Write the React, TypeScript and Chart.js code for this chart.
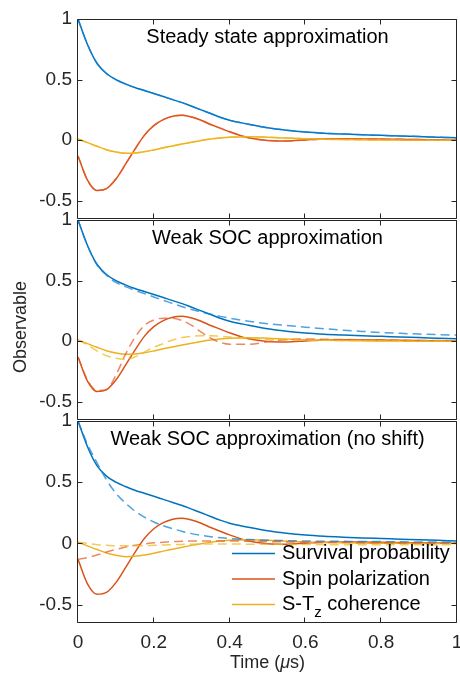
import React, { useEffect, useRef } from 'react';
import { Chart, registerables } from 'chart.js';
Chart.register(...registerables);

// ---------- data ----------
const TIME = [0, 0.025, 0.05, 0.075, 0.1, 0.125, 0.15, 0.175, 0.2, 0.225, 0.25, 0.275, 0.3, 0.325, 0.35, 0.375, 0.4, 0.45, 0.5, 0.55, 0.6, 0.65, 0.7, 0.75, 0.8, 0.85, 0.9, 0.95, 1];

// exact (solid) curves
const SURVIVAL = [1, 0.79, 0.635, 0.55, 0.5, 0.465, 0.435, 0.41, 0.385, 0.36, 0.335, 0.31, 0.28, 0.25, 0.22, 0.19, 0.165, 0.132, 0.103, 0.083, 0.068, 0.058, 0.051, 0.045, 0.04, 0.035, 0.03, 0.025, 0.02];
const POLARIZATION = [-0.13, -0.33, -0.415, -0.4, -0.32, -0.2, -0.075, 0.04, 0.12, 0.17, 0.198, 0.205, 0.192, 0.165, 0.13, 0.1, 0.07, 0.02, -0.002, -0.006, 0.002, 0.01, 0.012, 0.011, 0.009, 0.007, 0.005, 0.003, 0.001];
const COHERENCE = [0.01, -0.02, -0.05, -0.078, -0.097, -0.108, -0.105, -0.095, -0.08, -0.063, -0.047, -0.031, -0.016, -0.002, 0.01, 0.019, 0.025, 0.029, 0.025, 0.018, 0.012, 0.008, 0.005, 0.003, 0.002, 0.001, 0, 0, 0];

// steady state approximation (dashed, panel 1)
const SS_SURVIVAL = [1, 0.79, 0.635, 0.55, 0.5, 0.465, 0.435, 0.41, 0.385, 0.36, 0.335, 0.31, 0.28, 0.25, 0.22, 0.19, 0.165, 0.132, 0.103, 0.083, 0.068, 0.058, 0.051, 0.045, 0.04, 0.035, 0.03, 0.025, 0.02];
const SS_POLARIZATION = [-0.13, -0.33, -0.415, -0.4, -0.32, -0.2, -0.075, 0.04, 0.12, 0.17, 0.198, 0.205, 0.192, 0.165, 0.13, 0.1, 0.07, 0.02, -0.002, -0.006, 0.002, 0.01, 0.012, 0.011, 0.009, 0.007, 0.005, 0.003, 0.001];
const SS_COHERENCE = [0.01, -0.02, -0.05, -0.078, -0.097, -0.108, -0.105, -0.095, -0.08, -0.063, -0.047, -0.031, -0.016, -0.002, 0.01, 0.019, 0.025, 0.029, 0.025, 0.018, 0.012, 0.008, 0.005, 0.003, 0.002, 0.001, 0, 0, 0];

// weak SOC approximation (dashed, panel 2)
const WS_SURVIVAL = [1, 0.79, 0.63, 0.545, 0.485, 0.45, 0.42, 0.393, 0.365, 0.338, 0.31, 0.285, 0.262, 0.241, 0.222, 0.205, 0.19, 0.165, 0.145, 0.13, 0.116, 0.103, 0.091, 0.081, 0.072, 0.065, 0.059, 0.054, 0.05];
const WS_POLARIZATION = [-0.13, -0.32, -0.405, -0.4, -0.28, -0.11, 0.03, 0.13, 0.175, 0.19, 0.19, 0.17, 0.13, 0.075, 0.025, -0.01, -0.025, -0.025, -0.005, 0.012, 0.018, 0.016, 0.014, 0.012, 0.01, 0.008, 0.006, 0.005, 0.004];
const WS_COHERENCE = [0.01, -0.03, -0.08, -0.12, -0.14, -0.15, -0.13, -0.09, -0.05, -0.02, 0.01, 0.03, 0.04, 0.045, 0.045, 0.04, 0.035, 0.025, 0.015, 0.012, 0.01, 0.008, 0.006, 0.005, 0.004, 0.003, 0.002, 0.001, 0];

// weak SOC approximation, no shift (dashed, panel 3)
const NS_SURVIVAL = [1, 0.81, 0.66, 0.52, 0.41, 0.33, 0.265, 0.215, 0.175, 0.145, 0.12, 0.098, 0.08, 0.066, 0.055, 0.047, 0.04, 0.032, 0.026, 0.023, 0.02, 0.018, 0.017, 0.016, 0.015, 0.013, 0.012, 0.011, 0.01];
const NS_POLARIZATION = [-0.13, -0.115, -0.095, -0.07, -0.05, -0.03, -0.015, -0.005, 0.005, 0.01, 0.015, 0.018, 0.02, 0.02, 0.02, 0.02, 0.02, 0.018, 0.015, 0.012, 0.01, 0.008, 0.007, 0.006, 0.005, 0.004, 0.003, 0.002, 0.001];
const NS_COHERENCE = [0.01, 0, -0.01, -0.015, -0.02, -0.02, -0.02, -0.018, -0.015, -0.012, -0.01, -0.008, -0.006, -0.005, -0.005, -0.005, -0.005, -0.006, -0.007, -0.008, -0.009, -0.01, -0.01, -0.01, -0.01, -0.01, -0.01, -0.01, -0.01];

const X_TICKS = [0, 0.2, 0.4, 0.6, 0.8, 1];
const Y_TICKS = [-0.5, 0, 0.5, 1];
const PANEL_TITLES = ['Steady state approximation', 'Weak SOC approximation', 'Weak SOC approximation (no shift)'];
const LEGEND_LABELS = ['Survival probability', 'Spin polarization', 'S-T', 'z', ' coherence'];
const Y_TITLE = 'Observable';
const X_TITLE_PARTS = ['Time (', 'μ', 's)'];

// ---------- style ----------
const COLORS = ['#0072BD', '#D95319', '#EDB120'];
const DASH_COLORS = ['rgba(20,130,215,0.75)', 'rgba(230,90,40,0.72)', 'rgba(240,185,30,0.75)'];
const AXIS = '#262626';
const FONT = '"Liberation Sans", Arial, Helvetica, sans-serif';
const W = 480;
const H = 677;
const PANELS = [
  { top: 19, bottom: 219 },
  { top: 220, bottom: 420 },
  { top: 421, bottom: 623 },
];
const LEFT = 78;
const RIGHT = 457;

const toXY = (arr: number[]) => TIME.map((t, i) => ({ x: t, y: arr[i] }));

function makeDatasets(dashed: number[][]) {
  const solid = [SURVIVAL, POLARIZATION, COHERENCE];
  const ds: any[] = [];
  solid.forEach((arr, i) =>
    ds.push({
      data: toXY(arr),
      borderColor: COLORS[i],
      borderWidth: 1.5,
      pointRadius: 0,
      cubicInterpolationMode: 'monotone',
      order: 5 - i,
    })
  );
  dashed.forEach((arr, i) =>
    ds.push({
      data: toXY(arr),
      borderColor: DASH_COLORS[i],
      borderWidth: 1.5,
      borderDash: [9, 5],
      pointRadius: 0,
      cubicInterpolationMode: 'monotone',
      order: 2 - i,
    })
  );
  return ds;
}

function framePlugin(idx: number) {
  return {
    id: 'frame' + idx,
    afterDraw(chart: any) {
      const { ctx, chartArea: a, scales } = chart;
      const xs = scales.x;
      const ys = scales.y;
      ctx.save();
      ctx.strokeStyle = AXIS;
      ctx.lineWidth = 1;
      const l = Math.round(a.left) - 0.5;
      const r = Math.round(a.right) - 0.5;
      const t = Math.round(a.top) + 0.5;
      const b = Math.round(a.bottom) - 0.5;
      ctx.beginPath();
      ctx.rect(l, t, r - l, b - t);
      X_TICKS.forEach((v) => {
        const px = Math.round(xs.getPixelForValue(v)) - 0.5;
        ctx.moveTo(px, b);
        ctx.lineTo(px, b - 5);
        ctx.moveTo(px, t);
        ctx.lineTo(px, t + 5);
      });
      Y_TICKS.forEach((v) => {
        const py = Math.round(ys.getPixelForValue(v)) + 0.5;
        ctx.moveTo(l, py);
        ctx.lineTo(l + 5, py);
        ctx.moveTo(r, py);
        ctx.lineTo(r - 5, py);
      });
      ctx.stroke();

      // panel title
      ctx.fillStyle = '#000';
      ctx.font = `20px ${FONT}`;
      ctx.textAlign = 'center';
      ctx.textBaseline = 'middle';
      ctx.fillText(PANEL_TITLES[idx], (a.left + a.right) / 2, a.top + 18);

      if (idx === 1) {
        ctx.save();
        ctx.fillStyle = AXIS;
        ctx.font = `18px ${FONT}`;
        ctx.translate(21, 327);
        ctx.rotate(-Math.PI / 2);
        ctx.textAlign = 'center';
        ctx.textBaseline = 'middle';
        ctx.fillText(Y_TITLE, 0, 0);
        ctx.restore();
      }

      if (idx === 2) {
        // x title with italic mu
        ctx.fillStyle = AXIS;
        ctx.textAlign = 'left';
        ctx.textBaseline = 'middle';
        const fN = `18px ${FONT}`;
        const fI = `italic 18px ${FONT}`;
        ctx.font = fN;
        const w0 = ctx.measureText(X_TITLE_PARTS[0]).width;
        const w2 = ctx.measureText(X_TITLE_PARTS[2]).width;
        ctx.font = fI;
        const w1 = ctx.measureText(X_TITLE_PARTS[1]).width;
        let x = (a.left + a.right) / 2 - (w0 + w1 + w2) / 2;
        const y = 663;
        ctx.font = fN;
        ctx.fillText(X_TITLE_PARTS[0], x, y);
        x += w0;
        ctx.font = fI;
        ctx.fillText(X_TITLE_PARTS[1], x, y);
        x += w1;
        ctx.font = fN;
        ctx.fillText(X_TITLE_PARTS[2], x, y);

        // legend
        const rows = [553.5, 579, 604.5];
        const x0 = 232;
        const x1 = 275;
        const tx = 282;
        ctx.lineWidth = 1.5;
        rows.forEach((ry, i) => {
          ctx.strokeStyle = COLORS[i];
          ctx.beginPath();
          ctx.moveTo(x0, ry);
          ctx.lineTo(x1, ry);
          ctx.stroke();
        });
        ctx.fillStyle = '#000';
        ctx.font = `20px ${FONT}`;
        ctx.textBaseline = 'middle';
        ctx.fillText(LEGEND_LABELS[0], tx, rows[0]);
        ctx.fillText(LEGEND_LABELS[1], tx, rows[1]);
        let lx = tx;
        ctx.fillText(LEGEND_LABELS[2], lx, rows[2]);
        lx += ctx.measureText(LEGEND_LABELS[2]).width;
        ctx.font = `15px ${FONT}`;
        ctx.fillText(LEGEND_LABELS[3], lx, rows[2] + 8);
        lx += ctx.measureText(LEGEND_LABELS[3]).width;
        ctx.font = `20px ${FONT}`;
        ctx.fillText(LEGEND_LABELS[4], lx, rows[2]);
      }
      ctx.restore();
    },
  };
}

function buildChart(canvas: HTMLCanvasElement, idx: number, dashed: number[][]) {
  const p = PANELS[idx];
  const isBottom = idx === 2;
  return new Chart(canvas, {
    type: 'line',
    data: { datasets: makeDatasets(dashed) },
    options: {
      animation: false,
      responsive: false,
      devicePixelRatio: 1,
      events: [],
      layout: {
        padding: {
          left: 0,
          right: W - RIGHT,
          top: p.top,
          bottom: isBottom ? 0 : H - p.bottom,
        },
      },
      plugins: { legend: { display: false }, tooltip: { enabled: false }, title: { display: false } },
      scales: {
        x: {
          type: 'linear',
          min: 0,
          max: 1,
          display: isBottom,
          grid: { display: false, drawTicks: false },
          border: { display: false },
          ticks: {
            stepSize: 0.2,
            autoSkip: false,
            maxRotation: 0,
            padding: 8,
            color: AXIS,
            font: { family: FONT, size: 19 },
            callback: (v: any) => String(Math.round(Number(v) * 10) / 10),
          },
          afterFit: (s: any) => {
            s.height = isBottom ? H - p.bottom : 0;
          },
        },
        y: {
          type: 'linear',
          min: -0.65,
          max: 1,
          grid: { display: false, drawTicks: false },
          border: { display: false },
          ticks: {
            stepSize: 0.5,
            includeBounds: false,
            autoSkip: false,
            padding: 6,
            color: AXIS,
            font: { family: FONT, size: 19 },
            callback: (v: any) => String(Math.round(Number(v) * 10) / 10),
          },
          afterFit: (s: any) => {
            s.width = LEFT;
          },
        },
      },
    } as any,
    plugins: [framePlugin(idx)],
  });
}

export default function App() {
  const r1 = useRef<HTMLCanvasElement>(null);
  const r2 = useRef<HTMLCanvasElement>(null);
  const r3 = useRef<HTMLCanvasElement>(null);

  useEffect(() => {
    const charts = [
      buildChart(r1.current!, 0, [SS_SURVIVAL, SS_POLARIZATION, SS_COHERENCE]),
      buildChart(r2.current!, 1, [WS_SURVIVAL, WS_POLARIZATION, WS_COHERENCE]),
      buildChart(r3.current!, 2, [NS_SURVIVAL, NS_POLARIZATION, NS_COHERENCE]),
    ];
    return () => charts.forEach((c) => c.destroy());
  }, []);

  const cs: React.CSSProperties = { position: 'absolute', left: 0, top: 0, width: W, height: H };
  return (
    <div style={{ position: 'fixed', left: 0, top: 0, width: 460, height: H, overflow: 'hidden', background: '#fff' }}>
      <canvas ref={r1} width={W} height={H} style={cs} />
      <canvas ref={r2} width={W} height={H} style={cs} />
      <canvas ref={r3} width={W} height={H} style={cs} />
    </div>
  );
}
